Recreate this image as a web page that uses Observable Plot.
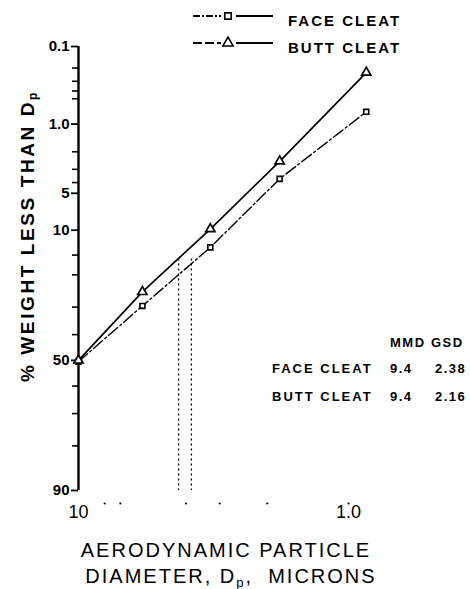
<!DOCTYPE html>
<html><head><meta charset="utf-8">
<script src="https://cdn.jsdelivr.net/npm/d3@7"></script>
<script src="https://cdn.jsdelivr.net/npm/@observablehq/plot@0.6"></script>
<style>body{margin:0;background:#fff} #chart svg{display:block}</style>
</head><body><div id="chart"></div>
<script>
// ---- data ----
const diameters = [10, 5.8, 3.25, 1.8, 0.86];          // microns
const faceCleatPct = [50.5, 29.6, 13.3, 3.7, 0.72];    // % weight less than Dp
const buttCleatPct = [50, 25, 9.8, 2.5, 0.23];
const seriesNames = ["FACE CLEAT", "BUTT CLEAT"];
const yTickValues = [0.1, 1, 5, 10, 50, 90];
const yTickLabels = ["0.1", "1.0", "5", "10", "50", "90"];
const yMinorTicks = [0.2, 0.3, 0.4, 0.5, 2, 3, 4, 15, 20, 30, 40, 60, 70, 80];
const xTickValues = [10, 1];
const xTickLabels = ["10", "1.0"];
const xMinorTicks = [8, 7, 4, 3, 2, 1];
const dropDiameters = [4.26, 3.82];
const dropPct = 15.9;
const tableHeader = ["MMD", "GSD"];
const tableMMD = ["9.4", "9.4"];
const tableGSD = ["2.38", "2.16"];

// inverse normal CDF (probability scale transform)
function probit(p) {
  const a = [-3.969683028665376e+01, 2.209460984245205e+02, -2.759285104469687e+02, 1.383577518672690e+02, -3.066479806614716e+01, 2.506628277459239e+00];
  const b = [-5.447609879822406e+01, 1.615858368580409e+02, -1.556989798598866e+02, 6.680131188771972e+01, -1.328068155288572e+01];
  const c = [-7.784894002430293e-03, -3.223964580411365e-01, -2.400758277161838e+00, -2.549732539343734e+00, 4.374664141464968e+00, 2.938163982698783e+00];
  const d = [7.784695709041462e-03, 3.224671290700398e-01, 2.445134137142996e+00, 3.754408661907416e+00];
  const plow = 0.02425, phigh = 1 - plow;
  let q, r;
  if (p < plow) { q = Math.sqrt(-2 * Math.log(p)); return (((((c[0]*q+c[1])*q+c[2])*q+c[3])*q+c[4])*q+c[5]) / ((((d[0]*q+d[1])*q+d[2])*q+d[3])*q+1); }
  if (p <= phigh) { q = p - 0.5; r = q*q; return (((((a[0]*r+a[1])*r+a[2])*r+a[3])*r+a[4])*r+a[5])*q / (((((b[0]*r+b[1])*r+b[2])*r+b[3])*r+b[4])*r+1); }
  q = Math.sqrt(-2 * Math.log(1 - p)); return -(((((c[0]*q+c[1])*q+c[2])*q+c[3])*q+c[4])*q+c[5]) / ((((d[0]*q+d[1])*q+d[2])*q+d[3])*q+1);
}
const z = pct => probit(pct / 100);

const face = diameters.map((d, i) => ({series: seriesNames[0], d, p: faceCleatPct[i]}));
const butt = diameters.map((d, i) => ({series: seriesNames[1], d, p: buttCleatPct[i]}));
const labelMap = new Map(yTickValues.map((v, i) => [z(v), yTickLabels[i]]));
const yTop = yTickValues[0], yBottom = yTickValues[yTickValues.length - 1];

const FONT = "'Liberation Sans', Arial, sans-serif";

const chart = Plot.plot({
  width: 470,
  height: 589,
  marginLeft: 78,
  marginRight: 62,
  marginTop: 46,
  marginBottom: 99,
  style: {fontFamily: FONT, background: "#fff", color: "#000", overflow: "visible"},
  x: {type: "log", domain: [10, 0.6], axis: null},
  y: {type: "linear", domain: [z(yBottom), z(yTop)], axis: null},
  marks: [
    Plot.ruleX([10], {y1: () => z(yTop), y2: () => z(yBottom), strokeWidth: 2.4}),
    Plot.axisY(yTickValues.map(z), {anchor: "left", tickSize: 7, tickPadding: 2, strokeWidth: 1.8,
      tickFormat: d => labelMap.get(d), fontSize: 15, fontWeight: "bold"}),
    Plot.axisY(yMinorTicks.map(z), {anchor: "left", tickSize: 6, strokeWidth: 1.6, tickFormat: () => ""}),
    Plot.ruleX(dropDiameters, {y1: () => z(dropPct), y2: () => z(yBottom), strokeDasharray: "2,3", strokeWidth: 1.3}),
    Plot.line(face, {x: "d", y: r => z(r.p), strokeWidth: 1.4, strokeDasharray: "12,3,2,3"}),
    Plot.line(butt, {x: "d", y: r => z(r.p), strokeWidth: 1.7}),
    Plot.dot(face, {x: "d", y: r => z(r.p), symbol: "square", r: 2.8, fill: "white", stroke: "black", strokeWidth: 1.6}),
    Plot.dot(butt, {x: "d", y: r => z(r.p), symbol: "triangle", r: 3.4, fill: "white", stroke: "black", strokeWidth: 1.7}),
    Plot.dot(xMinorTicks, {x: d => d, frameAnchor: "bottom", dy: 13, r: 1.1, fill: "black", stroke: null}),
    Plot.text(xTickValues, {x: d => d, text: (d, i) => xTickLabels[i], frameAnchor: "bottom", dy: 27, fontSize: 18, fill: "black"})
  ]
});
document.getElementById("chart").appendChild(chart);

// ---- annotations: legend, titles, table ----
const svg = d3.select(chart);
const g = svg.append("g").attr("font-family", FONT).attr("fill", "black").attr("text-anchor", "start");

// legend
const legend = g.append("g");
const legendRows = [{y: 16, sym: d3.symbolSquare, size: 40, dash: "7,2,2,2"}, {y: 43, sym: d3.symbolTriangle, size: 46, dash: "9,3"}];
legendRows.forEach((row, i) => {
  legend.append("line").attr("x1", 193).attr("x2", 221).attr("y1", row.y).attr("y2", row.y)
    .attr("stroke", "black").attr("stroke-width", 1.8).attr("stroke-dasharray", row.dash);
  legend.append("line").attr("x1", 236).attr("x2", 273).attr("y1", row.y).attr("y2", row.y)
    .attr("stroke", "black").attr("stroke-width", 2);
  legend.append("path").attr("d", d3.symbol(row.sym, row.size)()).attr("transform", `translate(228,${row.y})`)
    .attr("fill", "white").attr("stroke", "black").attr("stroke-width", 1.6);
  legend.append("text").attr("x", 288).attr("y", row.y + 10).attr("font-size", 15).attr("font-weight", "bold")
    .attr("letter-spacing", 2).text(seriesNames[i]);
});

// y title
const yt = g.append("text").attr("transform", "translate(29,236) rotate(-90)").attr("text-anchor", "middle")
  .attr("font-size", 19).attr("font-weight", "bold").attr("letter-spacing", 2.6).attr("dominant-baseline", "middle");
yt.append("tspan").text("% WEIGHT LESS THAN D");
yt.append("tspan").attr("dy", 5).attr("font-size", 12).text("p");

// x title
g.append("text").attr("x", 226).attr("y", 557).attr("text-anchor", "middle").attr("font-size", 20)
  .attr("letter-spacing", 2).text("AERODYNAMIC PARTICLE");
const xt = g.append("text").attr("x", 231).attr("y", 583).attr("text-anchor", "middle").attr("font-size", 20)
  .attr("letter-spacing", 2);
xt.append("tspan").text("DIAMETER, D");
xt.append("tspan").attr("dy", 4).attr("font-size", 13).text("p");
xt.append("tspan").attr("dy", -4).text(",  MICRONS");

// MMD / GSD table
const tbl = g.append("g").attr("font-size", 13).attr("font-weight", "bold").attr("letter-spacing", 1.5);
tbl.append("text").attr("x", 390).attr("y", 347).text(tableHeader[0]);
tbl.append("text").attr("x", 431).attr("y", 347).text(tableHeader[1]);
seriesNames.forEach((name, i) => {
  const y = 373 + i * 28;
  tbl.append("text").attr("x", 272).attr("y", y).attr("letter-spacing", 2).text(name);
  tbl.append("text").attr("x", 390).attr("y", y).text(tableMMD[i]);
  tbl.append("text").attr("x", 435).attr("y", y).text(tableGSD[i]);
});
</script>
</body></html>
